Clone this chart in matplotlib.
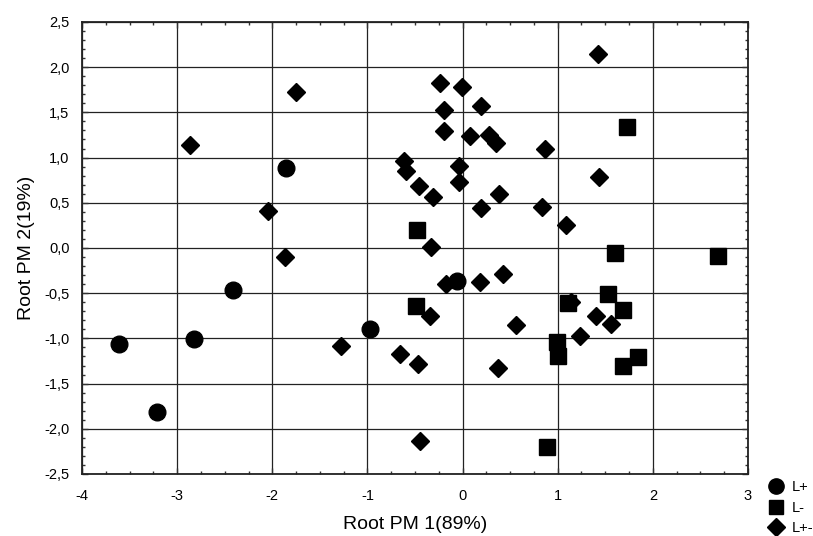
import matplotlib
matplotlib.use("Agg")
import matplotlib.pyplot as plt
from matplotlib.ticker import MultipleLocator, FuncFormatter
from matplotlib.lines import Line2D

plt.rcParams['font.family'] = ['Liberation Sans', 'DejaVu Sans']

# L+ (circles)
lp_x = [-1.86, -2.41, -3.61, -2.82, -3.21, -0.97, -0.06]
lp_y = [0.89, -0.46, -1.06, -1.01, -1.81, -0.90, -0.37]

# L- (squares)
lm_x = [1.73, -0.48, 1.60, 2.69, -0.49, 1.11, 1.53, 1.69, 0.99, 1.00, 1.84, 1.69, 0.89]
lm_y = [1.34, 0.20, -0.05, -0.09, -0.64, -0.61, -0.51, -0.69, -1.04, -1.19, -1.21, -1.30, -2.20]

# L+- (diamonds)
lpm_x = [-1.75, -2.87, -0.62, -0.59, -0.46, -2.05, 1.42, -0.24, -0.01, -0.20, 0.19,
         -0.20, 0.08, 0.28, 0.35, 0.87, -0.04, -0.04, -0.31, 0.38, 1.43, 0.19, 0.83,
         1.09, -1.87, -0.33, -0.17, 0.18, 0.43, -0.34, 0.56, 1.14, 1.40, 1.56, 1.23,
         -1.28, -0.66, -0.47, 0.37, -0.45]
lpm_y = [1.73, 1.14, 0.96, 0.85, 0.69, 0.41, 2.15, 1.83, 1.78, 1.53, 1.57,
         1.29, 1.24, 1.25, 1.16, 1.10, 0.91, 0.73, 0.56, 0.60, 0.79, 0.44, 0.45,
         0.25, -0.10, 0.01, -0.40, -0.38, -0.29, -0.75, -0.85, -0.60, -0.75, -0.84, -0.97,
         -1.08, -1.17, -1.28, -1.33, -2.14]

fig = plt.figure(figsize=(8.13, 5.36), dpi=100)
ax = fig.add_axes([0.1009, 0.1157, 0.8191, 0.8433])

ms = 12
ax.plot(lp_x, lp_y, 'o', color='black', markersize=ms, linestyle='none', zorder=3)
ax.plot(lm_x, lm_y, 's', color='black', markersize=ms - 0.5, linestyle='none', zorder=3)
ax.plot(lpm_x, lpm_y, 'D', color='black', markersize=ms - 3, linestyle='none', zorder=3)

ax.set_xlim(-4, 3)
ax.set_ylim(-2.5, 2.5)
ax.xaxis.set_major_locator(MultipleLocator(1))
ax.xaxis.set_minor_locator(MultipleLocator(0.25))
ax.yaxis.set_major_locator(MultipleLocator(0.5))
ax.yaxis.set_minor_locator(MultipleLocator(0.1))
ax.yaxis.set_major_formatter(FuncFormatter(lambda v, p: f"{v:.1f}".replace('.', ',').replace('-0,0', '0,0')))
ax.xaxis.set_major_formatter(FuncFormatter(lambda v, p: f"{int(round(v))}"))

ax.grid(True, which='major', color='#222222', linewidth=0.9)
ax.set_axisbelow(True)
ax.tick_params(which='both', direction='in', top=True, right=True, labelsize=10.5, color='#333333')
ax.tick_params(which='major', length=4, width=1)
ax.tick_params(which='minor', length=2.5, width=1)
ax.tick_params(axis='x', pad=10.5)
ax.tick_params(axis='y', pad=9)
for s in ax.spines.values():
    s.set_linewidth(1.3)
    s.set_color('#222222')

ax.set_xlabel('Root PM 1(89%)', fontsize=14, labelpad=10)
ax.set_ylabel('Root PM 2(19%)', fontsize=14, labelpad=7)

handles = [
    Line2D([], [], marker='o', color='black', linestyle='none', markersize=11),
    Line2D([], [], marker='s', color='black', linestyle='none', markersize=10.5),
    Line2D([], [], marker='D', color='black', linestyle='none', markersize=9),
]
fig.legend(handles, ['L+', 'L-', 'L+-'], loc='lower left', bbox_to_anchor=(0.935, -0.018),
           frameon=False, fontsize=10.5, handlelength=0.8, handletextpad=0.7,
           labelspacing=0.45, borderpad=0.2)

fig.savefig('out.png', dpi=100)
